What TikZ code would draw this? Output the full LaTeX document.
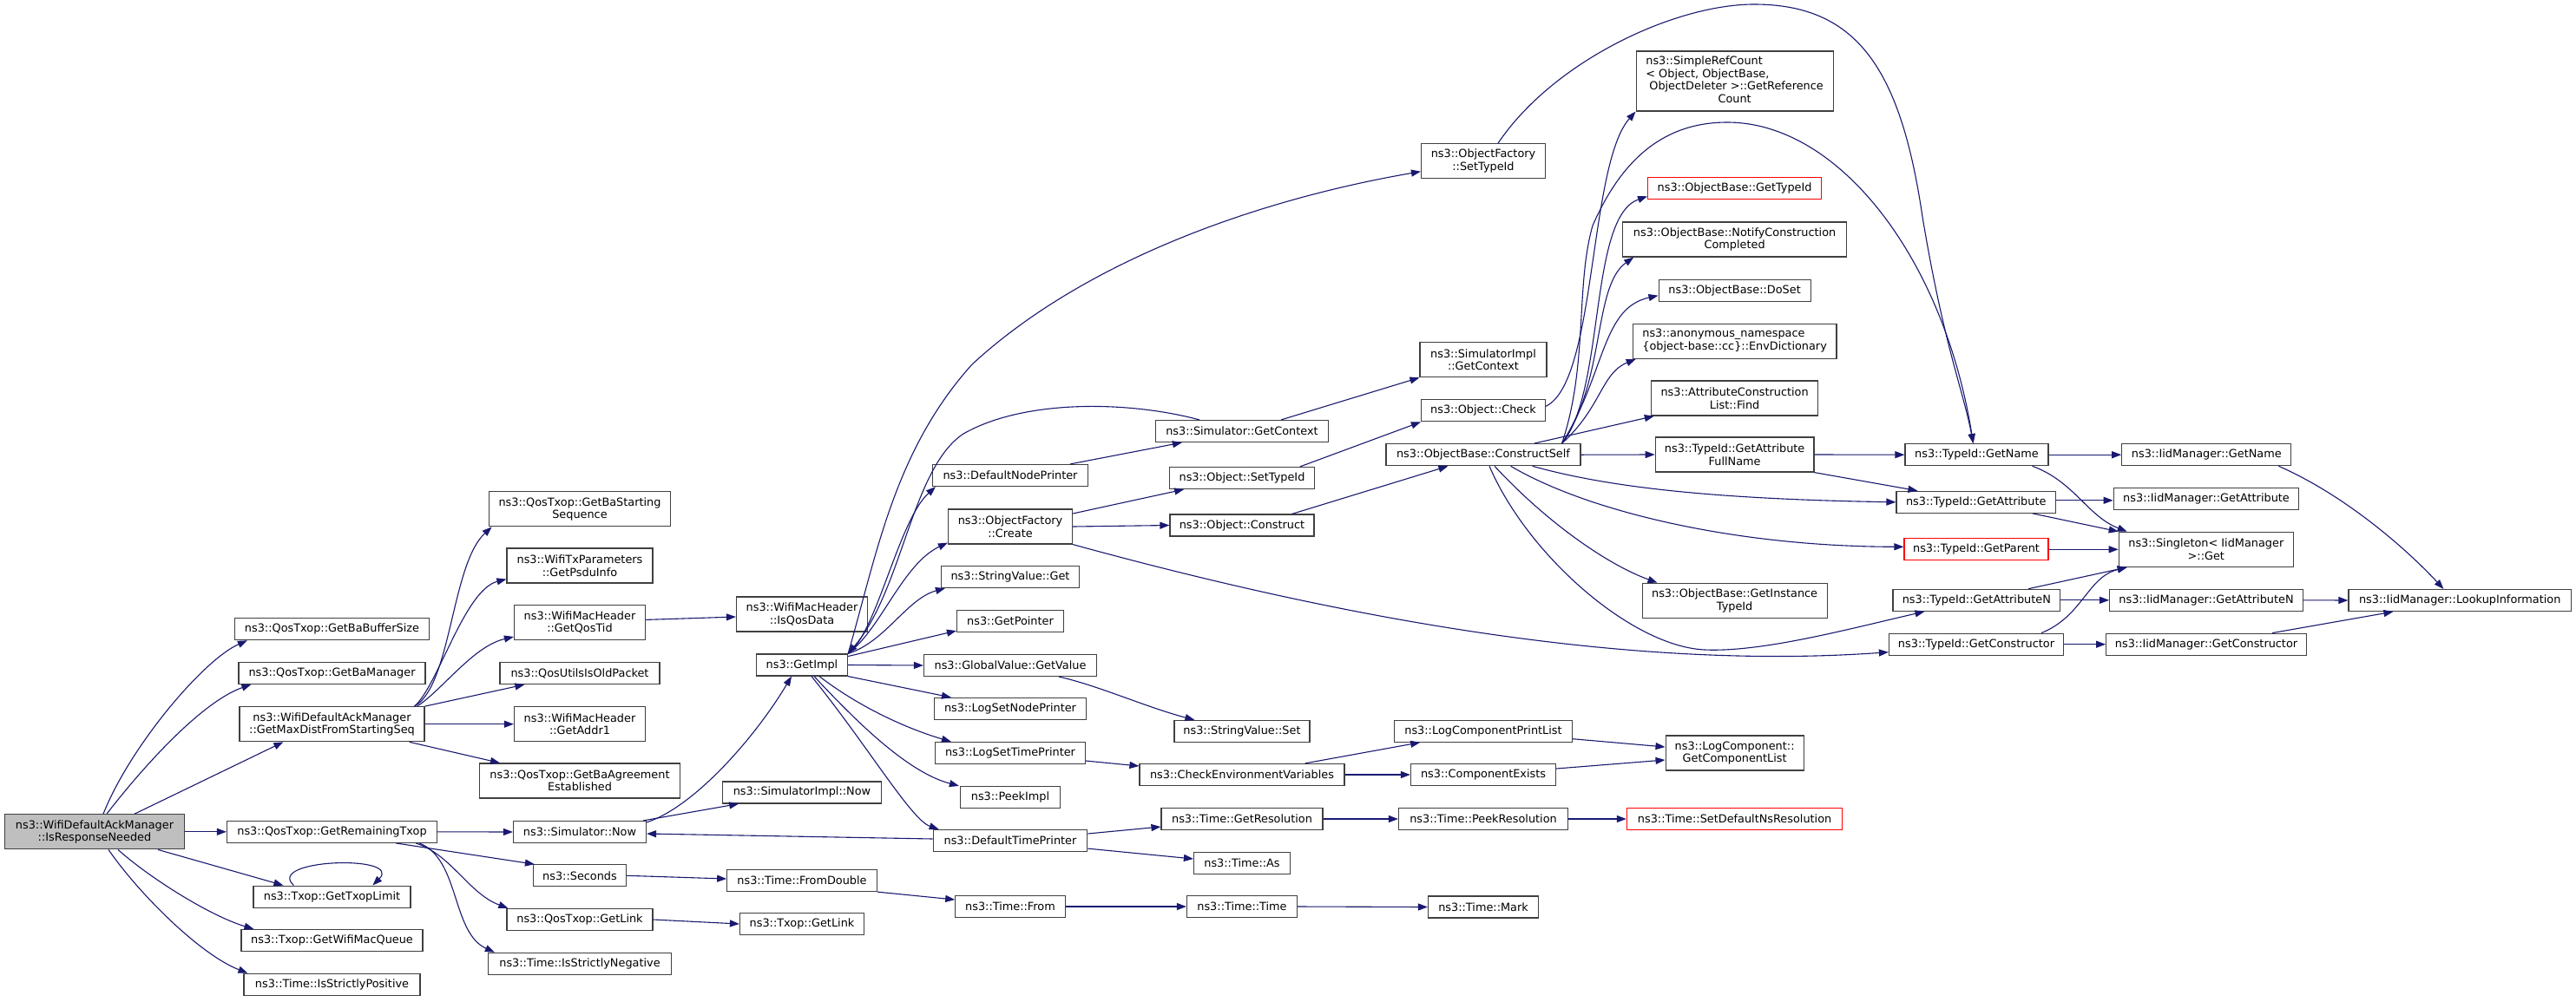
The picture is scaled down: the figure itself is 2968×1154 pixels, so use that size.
\documentclass[tikz,border=0pt]{standalone}
\usepackage{fontspec}
\setmainfont{DejaVu Sans}
\usetikzlibrary{arrows.meta,calc}
\definecolor{edgec}{HTML}{191970}
\definecolor{nodec}{HTML}{404040}
\definecolor{rootgray}{HTML}{BFBFBF}
\definecolor{redc}{HTML}{FF0000}
\begin{document}
\begin{tikzpicture}[x=1pt,y=-1pt,
  fn/.style={draw=nodec, line width=1.2pt, fill=white, rectangle, inner sep=0pt,
    minimum height=25pt, align=center, font=\fontsize{12.85}{14.5}\selectfont},
  fntwo/.style={fn, minimum height=40pt},
  redfn/.style={fn, draw=redc},
  rootfn/.style={fntwo, fill=rootgray},
  cedge/.style={draw=edgec, line width=1.1pt, -{Triangle[length=11pt,width=8pt]}},
]
\fill[white] (0,0) rectangle (2968,1154);
\useasboundingbox (0,0) rectangle (2968,1154);

% column 0
\node[rootfn, minimum width=207pt] (r0) at (109,958.8) {ns3::WifiDefaultAckManager\\::IsResponseNeeded};
% column 1
\node[fn, minimum width=224pt] (a1) at (382.5,725.2) {ns3::QosTxop::GetBaBufferSize};
\node[fn, minimum width=215pt] (a2) at (382.5,775.8) {ns3::QosTxop::GetBaManager};
\node[fntwo, minimum width=213pt] (a3) at (382.5,834.7) {ns3::WifiDefaultAckManager\\::GetMaxDistFromStartingSeq};
\node[fn, minimum width=242pt] (a4) at (382.5,958.8) {ns3::QosTxop::GetRemainingTxop};
\node[fn, minimum width=181pt] (a5) at (382.5,1033.6) {ns3::Txop::GetTxopLimit};
\node[fn, minimum width=209pt] (a6) at (382.5,1084) {ns3::Txop::GetWifiMacQueue};
\node[fn, minimum width=203pt] (a7) at (382.5,1134.8) {ns3::Time::IsStrictlyPositive};
% column 2
\node[fntwo, minimum width=209.5pt] (b1) at (668,586.8) {ns3::QosTxop::GetBaStarting\\Sequence};
\node[fntwo, minimum width=168pt] (b2) at (668,652) {ns3::WifiTxParameters\\::GetPsduInfo};
\node[fntwo, minimum width=151pt] (b3) at (668,717.4) {ns3::WifiMacHeader\\::GetQosTid};
\node[fn, minimum width=184pt] (b4) at (668,776) {ns3::QosUtilsIsOldPacket};
\node[fntwo, minimum width=151pt] (b5) at (668,834.7) {ns3::WifiMacHeader\\::GetAddr1};
\node[fntwo, minimum width=231pt] (b6) at (668,900) {ns3::QosTxop::GetBaAgreement\\Established};
\node[fn, minimum width=153pt] (b7) at (668,959) {ns3::Simulator::Now};
\node[fn, minimum width=107pt] (b8) at (668,1009.3) {ns3::Seconds};
\node[fn, minimum width=168pt] (b9) at (668,1060) {ns3::QosTxop::GetLink};
\node[fn, minimum width=211pt] (b10) at (668,1110.8) {ns3::Time::IsStrictlyNegative};
% column 3
\node[fntwo, minimum width=151pt] (c1) at (924,708) {ns3::WifiMacHeader\\::IsQosData};
\node[fn, minimum width=105pt] (c2) at (924,766.5) {ns3::GetImpl};
\node[fn, minimum width=182.5pt] (c3) at (924,913.4) {ns3::SimulatorImpl::Now};
\node[fn, minimum width=172.5pt] (c4) at (924,1015) {ns3::Time::FromDouble};
\node[fn, minimum width=143pt] (c5) at (924,1065) {ns3::Txop::GetLink};
% column 4
\node[fn, minimum width=179pt] (d1) at (1164,548) {ns3::DefaultNodePrinter};
\node[fntwo, minimum width=143pt] (d2) at (1164,607) {ns3::ObjectFactory\\::Create};
\node[fn, minimum width=159pt] (d3) at (1164,665) {ns3::StringValue::Get};
\node[fn, minimum width=123pt] (d4) at (1164,716) {ns3::GetPointer};
\node[fn, minimum width=199pt] (d5) at (1164,767) {ns3::GlobalValue::GetValue};
\node[fn, minimum width=175pt] (d6) at (1164,817) {ns3::LogSetNodePrinter};
\node[fn, minimum width=173pt] (d7) at (1164,868) {ns3::LogSetTimePrinter};
\node[fn, minimum width=115pt] (d8) at (1164,919) {ns3::PeekImpl};
\node[fn, minimum width=177.5pt] (d9) at (1164,969) {ns3::DefaultTimePrinter};
\node[fn, minimum width=126.5pt] (d10) at (1164,1045) {ns3::Time::From};
% column 5
\node[fn, minimum width=199pt] (e1) at (1431,497) {ns3::Simulator::GetContext};
\node[fn, minimum width=166.5pt] (e2) at (1431,551) {ns3::Object::SetTypeId};
\node[fn, minimum width=166pt] (e3) at (1431,605.5) {ns3::Object::Construct};
\node[fn, minimum width=156pt] (e4) at (1431,843) {ns3::StringValue::Set};
\node[fn, minimum width=236pt] (e5) at (1431,893) {ns3::CheckEnvironmentVariables};
\node[fn, minimum width=186pt] (e6) at (1431,944) {ns3::Time::GetResolution};
\node[fn, minimum width=111pt] (e7) at (1431,995) {ns3::Time::As};
\node[fn, minimum width=127pt] (e8) at (1431,1045) {ns3::Time::Time};
% column 6
\node[fntwo, minimum width=143pt] (f1) at (1709,185.7) {ns3::ObjectFactory\\::SetTypeId};
\node[fntwo, minimum width=146pt] (f2) at (1709,414.7) {ns3::SimulatorImpl\\::GetContext};
\node[fn, minimum width=143pt] (f3) at (1709,473.3) {ns3::Object::Check};
\node[fn, minimum width=224pt] (f4) at (1709,524.2) {ns3::ObjectBase::ConstructSelf};
\node[fn, minimum width=204.5pt] (f5) at (1709,842.7) {ns3::LogComponentPrintList};
\node[fn, minimum width=167pt] (f6) at (1709,893) {ns3::ComponentExists};
\node[fn, minimum width=195pt] (f7) at (1709,944) {ns3::Time::PeekResolution};
\node[fn, minimum width=127pt] (f8) at (1709,1045.5) {ns3::Time::Mark};
% column 7
\node[fn, minimum width=227pt, minimum height=69pt] (g1) at (1998.6,93.5)
  {\begin{tabular}{@{}l@{}}ns3::SimpleRefCount\\< Object, ObjectBase,\\\hspace{4pt}ObjectDeleter >::GetReference\\\multicolumn{1}{@{}c@{}}{Count}\end{tabular}};
\node[redfn, minimum width=200pt] (g2) at (1998.6,217.3) {ns3::ObjectBase::GetTypeId};
\node[fntwo, minimum width=257.6pt] (g3) at (1998.6,276) {ns3::ObjectBase::NotifyConstruction\\Completed};
\node[fn, minimum width=175pt] (g4) at (1998.6,334.7) {ns3::ObjectBase::DoSet};
\node[fntwo, minimum width=234.6pt] (g5) at (1998.6,393.3)
  {\begin{tabular}{@{}l@{}}ns3::anonymous\_namespace\\\{object-base::cc\}::EnvDictionary\end{tabular}};
\node[fntwo, minimum width=192.5pt] (g6) at (1998.6,459) {ns3::AttributeConstruction\\List::Find};
\node[fntwo, minimum width=182.6pt] (g7) at (1998.6,524) {ns3::TypeId::GetAttribute\\FullName};
\node[fntwo, minimum width=213pt] (g8) at (1998.6,692.3) {ns3::ObjectBase::GetInstance\\TypeId};
\node[fntwo, minimum width=159pt] (g9) at (1998.6,868) {ns3::LogComponent::\\GetComponentList};
\node[redfn, minimum width=248.4pt] (g10) at (1998.6,944) {ns3::Time::SetDefaultNsResolution};
% column 8
\node[fn, minimum width=165pt] (h1) at (2277.5,524.2) {ns3::TypeId::GetName};
\node[fn, minimum width=183.4pt] (h2) at (2276.7,578.8) {ns3::TypeId::GetAttribute};
\node[redfn, minimum width=166pt] (h3) at (2277,633.3) {ns3::TypeId::GetParent};
\node[fn, minimum width=192.5pt] (h4) at (2277.3,691.8) {ns3::TypeId::GetAttributeN};
\node[fn, minimum width=201pt] (h5) at (2277,742.7) {ns3::TypeId::GetConstructor};
% column 9
\node[fn, minimum width=195pt] (i1) at (2542.3,524.2) {ns3::IidManager::GetName};
\node[fn, minimum width=213.5pt] (i2) at (2542,574.8) {ns3::IidManager::GetAttribute};
\node[fntwo, minimum width=201pt] (i3) at (2541.8,633.3) {ns3::Singleton< IidManager\\ >::Get};
\node[fn, minimum width=222.6pt] (i4) at (2542,691.8) {ns3::IidManager::GetAttributeN};
\node[fn, minimum width=230.7pt] (i5) at (2542,742.7) {ns3::IidManager::GetConstructor};
% column 10
\node[fn, minimum width=256.4pt] (j1) at (2834.2,692) {ns3::IidManager::LookupInformation};

% edges from root
\draw[cedge] ($(r0.north)+(10,0)$) .. controls (150,860) and (235,760) .. ($(a1.south west)+(15,0)$);
\draw[cedge] ($(r0.north)+(14,0)$) .. controls (160,890) and (230,810) .. ($(a2.south west)+(15,0)$);
\draw[cedge] ($(r0.north)+(46,0)$) -- ($(a3.south west)+(51,0)$);
\draw[cedge] (r0.east) -- (a4.west);
\draw[cedge] ($(r0.south)+(73,0)$) -- ($(a5.north west)+(35,0)$);
\draw[cedge] ($(r0.south)+(27,0)$) .. controls (170,1010) and (240,1055) .. ($(a6.north west)+(15,0)$);
\draw[cedge] ($(r0.south)+(16,0)$) .. controls (160,1030) and (230,1100) .. ($(a7.north west)+(5,0)$);
\draw[cedge] ($(a5.north west)+(47,0)$) .. controls (305,990) and (465,985) .. ($(a5.north west)+(138,0)$);
% GetMaxDist
\draw[cedge] ($(a3.north east)+(-12,0)$) .. controls (520,790) and (520,650) .. ($(b1.south west)+(4,0)$);
\draw[cedge] ($(a3.north east)+(-12,0)$) .. controls (505,790) and (535,680) .. ($(b2.south west)+(0,-5)$);
\draw[cedge] ($(a3.north east)+(-9,0)$) .. controls (510,795) and (545,745) .. ($(b3.south west)+(0,-4)$);
\draw[cedge] (a3.north east) -- ($(b4.south west)+(29,0)$);
\draw[cedge] (a3.east) -- (b5.west);
\draw[cedge] ($(a3.south east)+(-18,0)$) -- ($(b6.north west)+(24,0)$);
\draw[cedge] ($(b3.east)+(0,-3)$) -- ($(c1.west)+(0,3)$);
% GetRemainingTxop
\draw[cedge] (a4.east) -- (b7.west);
\draw[cedge] ($(a4.south east)+(-48,0)$) -- ($(b8.north west)+(2,0)$);
\draw[cedge] ($(a4.south east)+(-25,0)$) .. controls (520,985) and (540,1030) .. ($(b9.north west)+(2,0)$);
\draw[cedge] ($(a4.south east)+(-21,0)$) .. controls (530,990) and (520,1075) .. ($(b10.north west)+(8,0)$);
% Simulator::Now etc
\draw[cedge] ($(b7.north east)+(0,2)$) .. controls (800,930) and (870,850) .. ($(c2.south)+(-12,0)$);
\draw[cedge] ($(b7.north east)+(-4,0)$) -- ($(c3.south west)+(19,0)$);
\draw[cedge] (b8.east) -- ($(c4.west)+(0,-2)$);
\draw[cedge] (b9.east) -- (c5.west);
\draw[cedge] (c4.south east) -- ($(d10.west)+(0,-8)$);
\draw[cedge] (d10.east) -- (e8.west);
\draw[cedge] (e8.east) -- (f8.west);
% GetImpl
\draw[cedge] (c2.north east) .. controls (1010,730) and (1035,600) .. ($(d1.south west)+(4,0)$);
\draw[cedge] (c2.north east) .. controls (1015,725) and (1040,650) .. ($(d2.south west)+(0,-2)$);
\draw[cedge] (c2.north east) .. controls (1020,740) and (1045,690) .. ($(d3.south west)+(5,0)$);
\draw[cedge] ($(c2.east)+(0,-10)$) -- ($(d4.south west)+(0,-2)$);
\draw[cedge] (c2.east) -- (d5.west);
\draw[cedge] (c2.south east) -- ($(d6.north west)+(20,0)$);
\draw[cedge] ($(c2.south)+(20,0)$) .. controls (990,815) and (1045,840) .. ($(d7.north west)+(19,0)$);
\draw[cedge] ($(c2.south)+(14,0)$) .. controls (985,830) and (1045,890) .. ($(d8.north west)+(-1,0)$);
\draw[cedge] ($(c2.south)+(11,0)$) .. controls (1000,860) and (1050,945) .. ($(d9.north west)+(7,0)$);
\draw[cedge] (c2.north east) .. controls (1010,640) and (1030,520) .. (1120,420) .. controls (1250,300) and (1450,230) .. ($(f1.west)+(0,12)$);
% column 4 out
\draw[cedge] ($(d9.west)+(0,-2)$) -- ($(b7.east)+(0,2)$);
\draw[cedge] ($(d9.east)+(0,-8)$) -- ($(e6.west)+(0,9)$);
\draw[cedge] ($(d9.south east)+(0,-4)$) -- ($(e7.west)+(0,-5)$);
\draw[cedge] ($(d7.east)+(0,9)$) -- ($(e5.west)+(0,-10)$);
\draw[cedge] ($(d5.south east)+(-44,0)$) .. controls (1265,790) and (1320,815) .. ($(e4.north west)+(24,0)$);
\draw[cedge] ($(d1.north east)+(-21,0)$) -- ($(e1.south west)+(31,0)$);
\draw[cedge] ($(d2.east)+(0,-15)$) -- ($(e2.south west)+(17,0)$);
\draw[cedge] (d2.east) -- (e3.west);
\draw[cedge] (d2.south east) .. controls (1500,700) and (1850,775) .. ($(h5.west)+(0,9)$);
% column 5 out
\draw[cedge] ($(e1.north west)+(51,0)$) .. controls (1300,462) and (1180,460) .. (1110,500) .. controls (1050,540) and (1040,680) .. (c2.north east);
\draw[cedge] ($(e1.north east)+(-55,0)$) -- (f2.south west);
\draw[cedge] ($(e2.north east)+(-17,0)$) -- (f3.south west);
\draw[cedge] ($(e3.north east)+(-26,0)$) -- ($(f4.south west)+(72,0)$);
\draw[cedge] ($(e5.north east)+(-46,0)$) -- ($(f5.south west)+(30,0)$);
\draw[cedge] (e5.east) -- (f6.west);
\draw[cedge] (e6.east) -- (f7.west);
% column 6 out
\draw[cedge] ($(f3.east)+(0,-5)$) .. controls (1840,440) and (1830,190) .. (g1.south west);
\draw[cedge] ($(f4.north east)+(-22,0)$) .. controls (1850,450) and (1830,250) .. ($(g2.west)+(0,9)$);
\draw[cedge] ($(f4.north east)+(-22,0)$) .. controls (1850,440) and (1835,330) .. ($(g3.south west)+(13,0)$);
\draw[cedge] ($(f4.north east)+(-22,0)$) .. controls (1850,430) and (1845,355) .. ($(g4.west)+(0,6)$);
\draw[cedge] ($(f4.north east)+(-22,0)$) .. controls (1845,470) and (1845,430) .. ($(g5.south west)+(4,0)$);
\draw[cedge] ($(f4.north east)+(-54,0)$) -- ($(g6.south west)+(4,0)$);
\draw[cedge] (f4.east) -- (g7.west);
\draw[cedge] ($(f4.north east)+(-22,0)$) .. controls (1830,420) and (1815,330) .. (1835,260) .. controls (1870,180) and (1920,141) .. (1990,141) .. controls (2120,141) and (2240,300) .. ($(h1.north)+(-4,0)$);
\draw[cedge] ($(f1.north)+(17,0)$) .. controls (1790,70) and (1930,5) .. (2021,5) .. controls (2140,5) and (2190,80) .. (2215,250) .. controls (2240,400) and (2262,450) .. ($(h1.north)+(-4,0)$);
\draw[cedge] ($(f4.south east)+(-56,0)$) .. controls (1840,558) and (1950,575) .. (h2.west);
\draw[cedge] ($(f4.south east)+(-81,0)$) .. controls (1830,590) and (2000,630) .. ($(h3.west)+(0,-3)$);
\draw[cedge] ($(f4.south)+(13,0)$) .. controls (1780,600) and (1850,650) .. ($(g8.north west)+(18,0)$);
\draw[cedge] ($(f4.south)+(7,0)$) .. controls (1760,640) and (1880,745) .. (1964,749) .. controls (2030,752) and (2130,725) .. ($(h4.south west)+(37,0)$);
\draw[cedge] ($(f5.east)+(0,9)$) -- ($(g9.west)+(0,-7)$);
\draw[cedge] ($(f6.east)+(0,-7)$) -- ($(g9.west)+(0,8)$);
\draw[cedge] (f7.east) -- (g10.west);
% column 7 out
\draw[cedge] (g7.east) -- (h1.west);
\draw[cedge] (g7.south east) -- ($(h2.north west)+(25,0)$);
% column 8 out
\draw[cedge] (h1.east) -- (i1.west);
\draw[cedge] ($(h1.south east)+(-19,0)$) .. controls (2390,555) and (2405,595) .. ($(i3.north west)+(10,0)$);
\draw[cedge] ($(h2.east)+(0,-2)$) -- ($(i2.west)+(0,2)$);
\draw[cedge] ($(h2.south east)+(-27,0)$) -- (i3.north west);
\draw[cedge] (h3.east) -- (i3.west);
\draw[cedge] ($(h4.north east)+(-37,0)$) -- ($(i3.south west)+(10,0)$);
\draw[cedge] (h4.east) -- (i4.west);
\draw[cedge] ($(h5.north east)+(-26,0)$) .. controls (2400,710) and (2405,665) .. ($(i3.south west)+(10,0)$);
\draw[cedge] (h5.east) -- (i5.west);
% column 9 out
\draw[cedge] ($(i1.south east)+(-15,0)$) .. controls (2700,570) and (2770,630) .. ($(j1.north west)+(110,0)$);
\draw[cedge] (i4.east) -- (j1.west);
\draw[cedge] ($(i5.north east)+(-40,0)$) -- ($(j1.south west)+(52,0)$);
\end{tikzpicture}
\end{document}
